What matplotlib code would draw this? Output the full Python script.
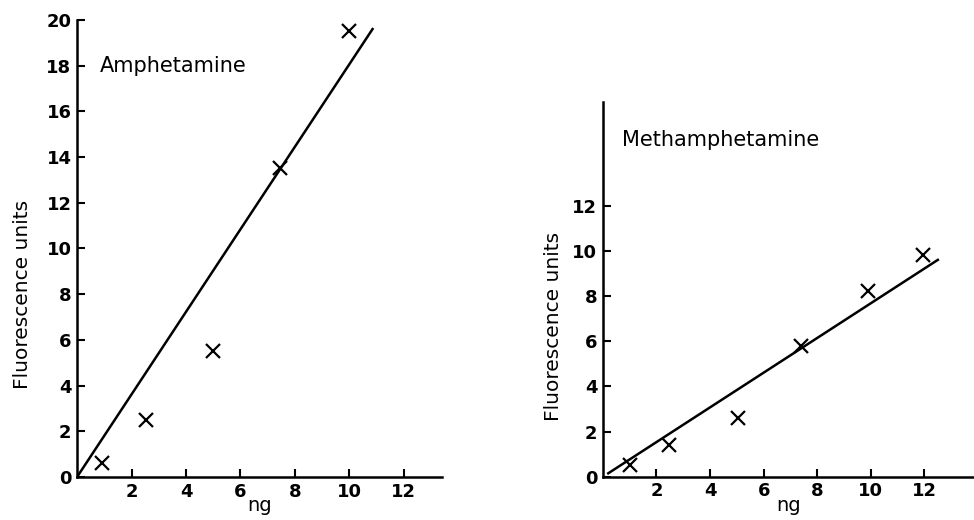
import matplotlib
matplotlib.use("Agg")
import matplotlib.pyplot as plt

# Amphetamine data
amph_ng = [0.9, 2.55, 5.0, 7.45, 10.0]
amph_fu = [0.6, 2.5, 5.5, 13.5, 19.5]
amph_line_x = [0.0, 10.85]
amph_line_y = [0.0, 19.6]

# Methamphetamine data
meth_ng = [1.0, 2.45, 5.05, 7.4, 9.9, 11.95]
meth_fu = [0.5, 1.4, 2.6, 5.8, 8.2, 9.8]
meth_line_x = [0.2, 12.5]
meth_line_y = [0.15, 9.6]

amph_yticks = [0, 2, 4, 6, 8, 10, 12, 14, 16, 18, 20]
meth_yticks = [0, 2, 4, 6, 8, 10, 12]
xticks = [2, 4, 6, 8, 10, 12]

plt.rcParams['font.family'] = ['DejaVu Sans']

fig = plt.figure(figsize=(9.74, 5.2), dpi=100)

def style(ax, yticks, xlim, ylim):
    ax.set_xlim(*xlim)
    ax.set_ylim(*ylim)
    for s in ['top', 'right']:
        ax.spines[s].set_visible(False)
    for s in ['left', 'bottom']:
        ax.spines[s].set_linewidth(1.8)
    ax.set_yticks(yticks)
    ax.set_xticks(xticks)
    ax.tick_params(direction='in', length=6, width=1.5, labelsize=13, pad=4)
    for lab in ax.get_xticklabels() + ax.get_yticklabels():
        lab.set_fontweight('bold')
    ax.patch.set_alpha(0)

ax1 = fig.add_axes([0.0791, 0.0827, 0.3747, 0.879])
style(ax1, amph_yticks, (0, 13.4), (0, 20))
ax1.plot(amph_line_x, amph_line_y, color='black', lw=1.8)
ax1.plot(amph_ng, amph_fu, linestyle='none', marker='x', color='black', ms=10, mew=1.6)
ax1.text(0.84, 18.0, 'Amphetamine', fontsize=15, va='center', ha='left')
ax1.set_ylabel('Fluorescence units', fontsize=14.5)
ax1.yaxis.set_label_coords(-0.124, 0.40)
ax1.set_xlabel('ng', fontsize=14, labelpad=-3)

ax2 = fig.add_axes([0.619, 0.0833, 0.381, 0.721])
style(ax2, meth_yticks, (0, 13.85), (0, 16.6))
ax2.plot(meth_line_x, meth_line_y, color='black', lw=1.8)
ax2.plot(meth_ng, meth_fu, linestyle='none', marker='x', color='black', ms=10, mew=1.6)
ax2.text(0.7, 14.9, 'Methamphetamine', fontsize=15, va='center', ha='left')
ax2.set_ylabel('Fluorescence units', fontsize=14.5)
ax2.yaxis.set_label_coords(-0.107, 0.40)
ax2.set_xlabel('ng', fontsize=14, labelpad=-3)

fig.savefig('out.png', dpi=100)
